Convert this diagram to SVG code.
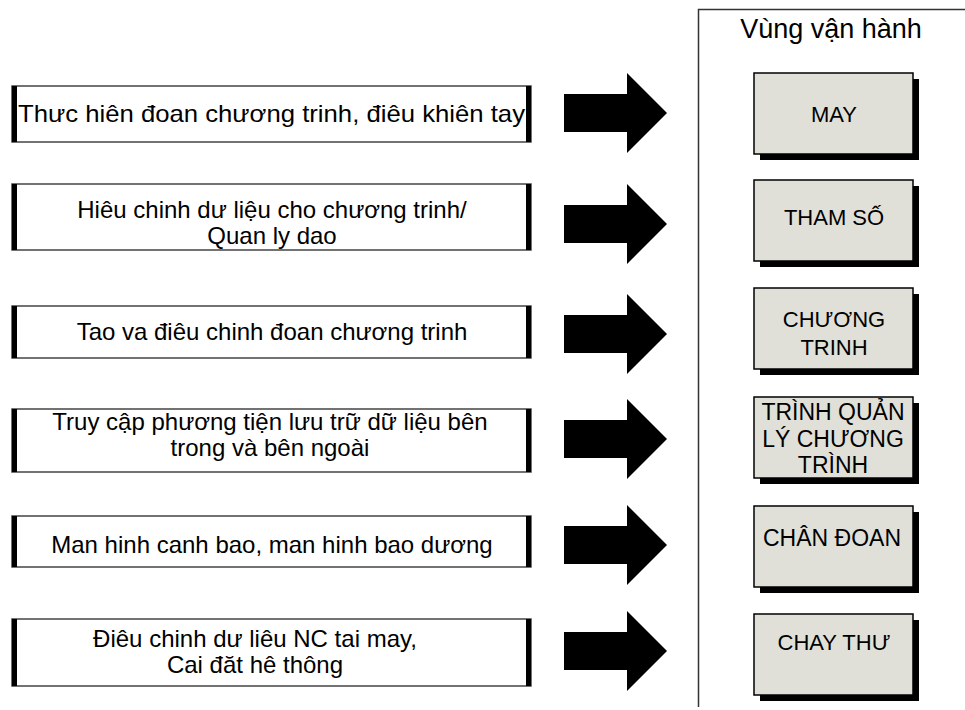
<svg xmlns="http://www.w3.org/2000/svg" width="965" height="710" viewBox="0 0 965 710">
<defs>
<style>
.t{font-family:"Liberation Sans",Arial,sans-serif;fill:#000}
.lt{font-size:24px}
.rt{font-size:22px;text-anchor:middle}
.rt2{font-size:23px;text-anchor:middle}
.box{fill:#fff;stroke:#444;stroke-width:1.5}
.side{fill:#000}
.rb{fill:#e0e0d9;stroke:#000;stroke-width:1.5}
.sh{fill:#000}
.arr{fill:#000}
</style>
</defs>
<rect width="965" height="710" fill="#fff"/>
<g id="panel">
<path d="M698.5 707 V9.5 H965" fill="none" stroke="#333" stroke-width="1.5"/>
<text class="t" x="831" y="38" font-size="27" text-anchor="middle">Vùng vận hành</text>
</g>
<g id="n1">
<rect class="box" x="12" y="86" width="519" height="56"/>
<rect class="side" x="12" y="86" width="5" height="56"/>
<rect class="side" x="526" y="86" width="5" height="56"/>
<text class="t lt" x="18" y="122" textLength="507" lengthAdjust="spacingAndGlyphs">Thưc hiên đoan chương trinh, điêu khiên tay</text>
</g>
<g id="n2">
<rect class="box" x="12" y="184" width="519" height="66"/>
<rect class="side" x="12" y="184" width="5" height="66"/>
<rect class="side" x="526" y="184" width="5" height="66"/>
<text class="t lt" x="272" text-anchor="middle"><tspan x="272" y="218">Hiêu chinh dư liệu cho chương trinh/</tspan><tspan x="272" y="244">Quan ly dao</tspan></text>
</g>
<g id="n3">
<rect class="box" x="12" y="306" width="519" height="52"/>
<rect class="side" x="12" y="306" width="5" height="52"/>
<rect class="side" x="526" y="306" width="5" height="52"/>
<text class="t lt" x="272" y="340" text-anchor="middle">Tao va điêu chinh đoan chương trinh</text>
</g>
<g id="n4">
<rect class="box" x="12" y="409" width="519" height="63"/>
<rect class="side" x="12" y="409" width="5" height="63"/>
<rect class="side" x="526" y="409" width="5" height="63"/>
<text class="t lt" x="270" text-anchor="middle"><tspan x="270" y="430">Truy cập phương tiện lưu trữ dữ liệu bên</tspan><tspan x="270" y="456">trong và bên ngoài</tspan></text>
</g>
<g id="n5">
<rect class="box" x="12" y="516" width="519" height="51"/>
<rect class="side" x="12" y="516" width="5" height="51"/>
<rect class="side" x="526" y="516" width="5" height="51"/>
<text class="t lt" x="272" y="553" text-anchor="middle">Man hinh canh bao, man hinh bao dương</text>
</g>
<g id="n6">
<rect class="box" x="12" y="619" width="519" height="67"/>
<rect class="side" x="12" y="619" width="5" height="67"/>
<rect class="side" x="526" y="619" width="5" height="67"/>
<text class="t lt" x="255" text-anchor="middle"><tspan x="255" y="647">Điêu chinh dư liêu NC tai may,</tspan><tspan x="255" y="673">Cai đăt hê thông</tspan></text>
</g>
<g id="r1">
<rect class="sh" x="760" y="79" width="159" height="81"/>
<rect class="rb" x="754" y="73" width="159" height="81"/>
<text class="t rt" x="834" y="122">MAY</text>
</g>
<g id="r2">
<rect class="sh" x="760" y="186" width="159" height="81"/>
<rect class="rb" x="754" y="180" width="159" height="81"/>
<text class="t rt" x="834" y="225">THAM SỐ</text>
</g>
<g id="r3">
<rect class="sh" x="760" y="294" width="159" height="81"/>
<rect class="rb" x="754" y="288" width="159" height="81"/>
<text class="t rt" x="834" y="327">CHƯƠNG</text>
<text class="t rt" x="834" y="355">TRINH</text>
</g>
<g id="r4">
<rect class="sh" x="760" y="403" width="159" height="81"/>
<rect class="rb" x="754" y="397" width="159" height="81"/>
<text class="t rt2" x="833" y="420">TRÌNH QUẢN</text>
<text class="t rt2" x="833" y="447">LÝ CHƯƠNG</text>
<text class="t rt2" x="833" y="473">TRÌNH</text>
</g>
<g id="r5">
<rect class="sh" x="760" y="512" width="159" height="81"/>
<rect class="rb" x="754" y="506" width="159" height="81"/>
<text class="t rt2" x="832" y="546">CHÂN ĐOAN</text>
</g>
<g id="r6">
<rect class="sh" x="760" y="620" width="159" height="81"/>
<rect class="rb" x="754" y="614" width="159" height="81"/>
<text class="t rt" x="834" y="650">CHAY THƯ</text>
</g>
<g id="connectors">
<path class="arr" d="M564 94 H627 V73 L667 113 L627 153 V132 H564 Z"/>
<path class="arr" d="M564 205 H627 V184 L667 224 L627 264 V243 H564 Z"/>
<path class="arr" d="M564 315 H627 V294 L667 334 L627 374 V353 H564 Z"/>
<path class="arr" d="M564 420 H627 V399 L667 439 L627 479 V458 H564 Z"/>
<path class="arr" d="M564 526 H627 V505 L667 545 L627 585 V564 H564 Z"/>
<path class="arr" d="M564 632 H627 V611 L667 651 L627 691 V670 H564 Z"/>
</g>
</svg>
